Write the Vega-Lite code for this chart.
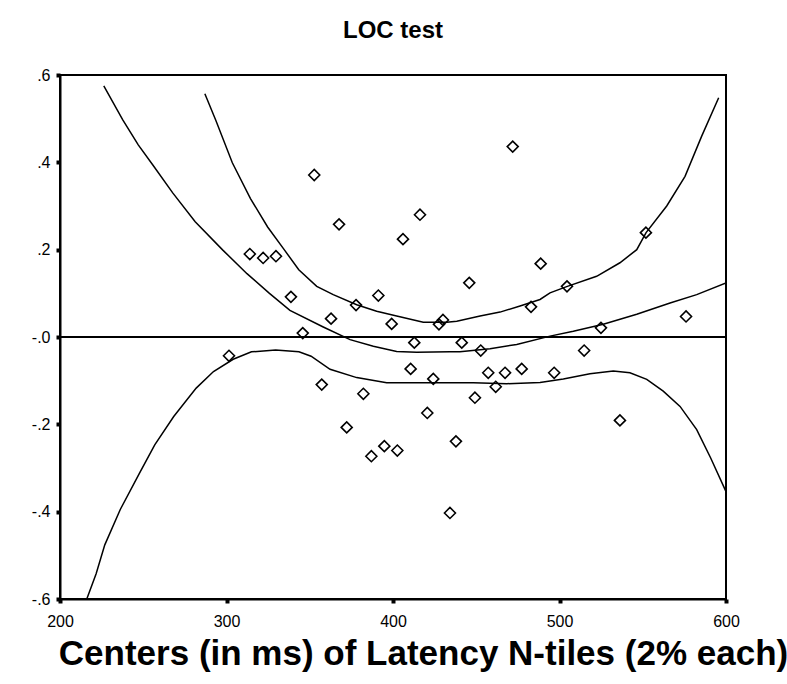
{
  "$schema": "https://vega.github.io/schema/vega-lite/v6.json",
  "autosize": "none",
  "width": 666,
  "height": 524,
  "padding": {"left": 60, "right": 61, "top": 75, "bottom": 85},
  "background": "white",
  "title": {"text": "LOC test", "font": "Liberation Sans", "fontSize": 24, "fontWeight": "bold", "color": "black", "anchor": "middle", "frame": "group", "offset": 24},
  "config": {
    "view": {"stroke": "black", "strokeWidth": 2},
    "axis": {"grid": false, "labelFlush": false, "labelOverlap": false, "domainColor": "black", "domainWidth": 2, "tickColor": "black", "tickSize": 4, "tickWidth": 4, "labelFont": "Liberation Sans", "labelFontSize": 16, "labelColor": "black", "titleFont": "Liberation Sans", "titleColor": "black"}
  },
  "datasets": {
    "points": [
      {"x": 301.5, "y": -0.043}, {"x": 314, "y": 0.19}, {"x": 322, "y": 0.181}, {"x": 329.7, "y": 0.185},
      {"x": 338.7, "y": 0.092}, {"x": 345.8, "y": 0.009}, {"x": 352.7, "y": 0.371}, {"x": 357.2, "y": -0.109},
      {"x": 362.8, "y": 0.042}, {"x": 367.6, "y": 0.258}, {"x": 372.2, "y": -0.207}, {"x": 377.8, "y": 0.073},
      {"x": 382.2, "y": -0.13}, {"x": 387, "y": -0.273}, {"x": 391.2, "y": 0.095}, {"x": 394.8, "y": -0.25},
      {"x": 399.2, "y": 0.03}, {"x": 402.6, "y": -0.26}, {"x": 406, "y": 0.224}, {"x": 410.6, "y": -0.073},
      {"x": 412.8, "y": -0.013}, {"x": 416.2, "y": 0.28}, {"x": 420.6, "y": -0.174}, {"x": 424.2, "y": -0.096},
      {"x": 427.6, "y": 0.029}, {"x": 430, "y": 0.039}, {"x": 434.2, "y": -0.403}, {"x": 437.8, "y": -0.239},
      {"x": 441.3, "y": -0.013}, {"x": 445.8, "y": 0.124}, {"x": 449.2, "y": -0.139}, {"x": 452.7, "y": -0.031},
      {"x": 457.2, "y": -0.082}, {"x": 461.7, "y": -0.114}, {"x": 467.3, "y": -0.082}, {"x": 471.9, "y": 0.436},
      {"x": 477.3, "y": -0.073}, {"x": 482.9, "y": 0.069}, {"x": 488.7, "y": 0.168}, {"x": 496.8, "y": -0.082},
      {"x": 504.5, "y": 0.116}, {"x": 514.8, "y": -0.031}, {"x": 524.9, "y": 0.021}, {"x": 536.3, "y": -0.191},
      {"x": 551.9, "y": 0.239}, {"x": 576, "y": 0.047}
    ],
    "curves": [
      {"c": "A", "x": 226.3, "y": 0.575}, {"c": "A", "x": 237.7, "y": 0.497}, {"c": "A", "x": 247.0, "y": 0.44},
      {"c": "A", "x": 256.3, "y": 0.391}, {"c": "A", "x": 267.7, "y": 0.33}, {"c": "A", "x": 281.2, "y": 0.264},
      {"c": "A", "x": 297.8, "y": 0.199}, {"c": "A", "x": 312.3, "y": 0.145}, {"c": "A", "x": 325.8, "y": 0.1},
      {"c": "A", "x": 338.1, "y": 0.061}, {"c": "A", "x": 358.1, "y": 0.023}, {"c": "A", "x": 374.2, "y": -0.006},
      {"c": "A", "x": 388.2, "y": -0.021}, {"c": "A", "x": 402.2, "y": -0.033}, {"c": "A", "x": 414.2, "y": -0.035},
      {"c": "A", "x": 434.2, "y": -0.034}, {"c": "A", "x": 440.2, "y": -0.034}, {"c": "A", "x": 458.3, "y": -0.027},
      {"c": "A", "x": 474.3, "y": -0.017}, {"c": "A", "x": 494.3, "y": 0.002}, {"c": "A", "x": 508.3, "y": 0.013},
      {"c": "A", "x": 526.3, "y": 0.029}, {"c": "A", "x": 546.4, "y": 0.052}, {"c": "A", "x": 566.4, "y": 0.078},
      {"c": "A", "x": 582.4, "y": 0.097}, {"c": "A", "x": 600, "y": 0.124},
      {"c": "B", "x": 287, "y": 0.557}, {"c": "B", "x": 293.5, "y": 0.497}, {"c": "B", "x": 303.5, "y": 0.399},
      {"c": "B", "x": 314.4, "y": 0.317}, {"c": "B", "x": 324.7, "y": 0.252}, {"c": "B", "x": 334.1, "y": 0.203},
      {"c": "B", "x": 343.4, "y": 0.154}, {"c": "B", "x": 354.2, "y": 0.116}, {"c": "B", "x": 364.1, "y": 0.097},
      {"c": "B", "x": 378.2, "y": 0.074}, {"c": "B", "x": 390.2, "y": 0.059}, {"c": "B", "x": 402.2, "y": 0.048},
      {"c": "B", "x": 418.2, "y": 0.034}, {"c": "B", "x": 432.3, "y": 0.034}, {"c": "B", "x": 438.3, "y": 0.036},
      {"c": "B", "x": 452.3, "y": 0.048}, {"c": "B", "x": 464.3, "y": 0.057}, {"c": "B", "x": 476.3, "y": 0.071},
      {"c": "B", "x": 488.3, "y": 0.086}, {"c": "B", "x": 494.3, "y": 0.101}, {"c": "B", "x": 504.7, "y": 0.116},
      {"c": "B", "x": 522.3, "y": 0.139}, {"c": "B", "x": 536.3, "y": 0.17}, {"c": "B", "x": 546.4, "y": 0.2},
      {"c": "B", "x": 552, "y": 0.239}, {"c": "B", "x": 564.4, "y": 0.3}, {"c": "B", "x": 575.4, "y": 0.368},
      {"c": "B", "x": 585.4, "y": 0.46}, {"c": "B", "x": 595.6, "y": 0.548},
      {"c": "C", "x": 216.2, "y": -0.599}, {"c": "C", "x": 221.7, "y": -0.542}, {"c": "C", "x": 226.9, "y": -0.476},
      {"c": "C", "x": 236.2, "y": -0.395}, {"c": "C", "x": 247.6, "y": -0.313}, {"c": "C", "x": 256.9, "y": -0.247},
      {"c": "C", "x": 268.3, "y": -0.182}, {"c": "C", "x": 281.8, "y": -0.117}, {"c": "C", "x": 292.2, "y": -0.079},
      {"c": "C", "x": 304.0, "y": -0.051}, {"c": "C", "x": 315.0, "y": -0.034}, {"c": "C", "x": 329.5, "y": -0.03},
      {"c": "C", "x": 343.5, "y": -0.034}, {"c": "C", "x": 350.8, "y": -0.044}, {"c": "C", "x": 362.2, "y": -0.074},
      {"c": "C", "x": 378.2, "y": -0.093}, {"c": "C", "x": 396.2, "y": -0.105}, {"c": "C", "x": 418.2, "y": -0.105},
      {"c": "C", "x": 448.2, "y": -0.105}, {"c": "C", "x": 468.3, "y": -0.107}, {"c": "C", "x": 488.3, "y": -0.104},
      {"c": "C", "x": 502.3, "y": -0.096}, {"c": "C", "x": 518.3, "y": -0.084}, {"c": "C", "x": 532.3, "y": -0.078},
      {"c": "C", "x": 542.3, "y": -0.082}, {"c": "C", "x": 552.4, "y": -0.097}, {"c": "C", "x": 562.3, "y": -0.124},
      {"c": "C", "x": 572.4, "y": -0.159}, {"c": "C", "x": 582.4, "y": -0.212}, {"c": "C", "x": 590.8, "y": -0.277},
      {"c": "C", "x": 600, "y": -0.354}
    ]
  },
  "layer": [
    {
      "data": {"values": [{"y": 0}]},
      "mark": {"type": "rule", "color": "black", "strokeWidth": 2},
      "encoding": {
        "y": {"field": "y", "type": "quantitative", "scale": {"domain": [-0.6, 0.6], "nice": false, "zero": false}}
      }
    },
    {
      "data": {"name": "curves"},
      "mark": {"type": "line", "color": "black", "strokeWidth": 1.5, "clip": true},
      "encoding": {
        "x": {"field": "x", "type": "quantitative"},
        "y": {"field": "y", "type": "quantitative"},
        "detail": {"field": "c", "type": "nominal"},
        "order": {"field": "x", "type": "quantitative"}
      }
    },
    {
      "data": {"name": "points"},
      "mark": {"type": "point", "shape": "diamond", "filled": false, "color": "black", "strokeWidth": 1.6, "size": 121, "opacity": 1},
      "encoding": {
        "x": {
          "field": "x", "type": "quantitative",
          "scale": {"domain": [200, 600], "nice": false, "zero": false},
          "axis": {"values": [200, 300, 400, 500, 600], "title": "Centers (in ms) of Latency N-tiles (2% each)", "titleFontSize": 35, "titleFontWeight": "bold", "titlePadding": 7, "titleX": 363, "titleAlign": "center", "labelPadding": 10}
        },
        "y": {
          "field": "y", "type": "quantitative",
          "scale": {"domain": [-0.6, 0.6], "nice": false, "zero": false},
          "axis": {"values": [-0.6, -0.4, -0.2, 0, 0.2, 0.4, 0.6], "title": null, "labelPadding": 6, "labelExpr": "(datum.value <= 0 ? '-' : '') + '.' + round(abs(datum.value) * 10)"}
        }
      }
    }
  ]
}
